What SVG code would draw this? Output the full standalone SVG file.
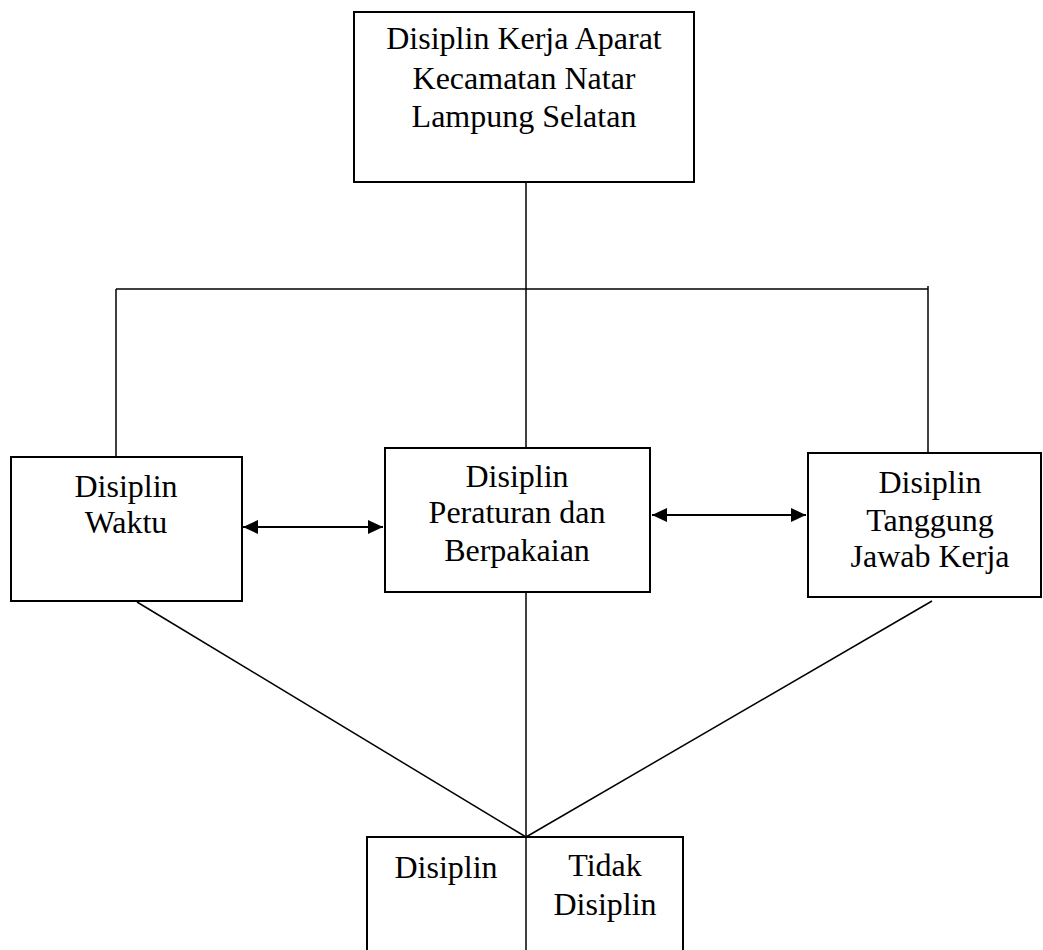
<svg xmlns="http://www.w3.org/2000/svg" width="1043" height="950" viewBox="0 0 1043 950">
<defs>
<marker id="ah" viewBox="0 0 15 14" refX="15" refY="7" markerWidth="15" markerHeight="14" markerUnits="userSpaceOnUse" orient="auto-start-reverse">
<path d="M0,0 L15,7 L0,14 Z" fill="#000"/>
</marker>
</defs>
<style>
.box{fill:#fff;stroke:#000;stroke-width:2}
.ln{fill:none;stroke:#000;stroke-width:1.5}
.arr{fill:none;stroke:#000;stroke-width:2}
.t{font-family:"Liberation Serif","Times New Roman",serif;font-size:32px;fill:#000;text-anchor:middle}
</style>
<rect width="1043" height="950" fill="#fff"/>
<g id="connectors">
<path class="ln" d="M526,182 V448"/>
<path class="ln" d="M116,289 H928"/>
<path class="ln" d="M116,289 V457"/>
<path class="ln" d="M928,286 V453"/>
<path class="arr" d="M243,527 H383" marker-start="url(#ah)" marker-end="url(#ah)"/>
<path class="arr" d="M652,515 H806" marker-start="url(#ah)" marker-end="url(#ah)"/>
<path class="ln" d="M137,602 L526,837"/>
<path class="ln" d="M932,601 L526,837"/>
<path class="ln" d="M526,592 V837"/>
</g>
<g id="node-top">
<rect class="box" x="354" y="12" width="340" height="170"/>
<text class="t" x="524" y="49">Disiplin Kerja Aparat</text>
<text class="t" x="524" y="89">Kecamatan Natar</text>
<text class="t" x="524" y="127">Lampung Selatan</text>
</g>
<g id="node-waktu">
<rect class="box" x="11" y="457" width="231" height="144"/>
<text class="t" x="126" y="497">Disiplin</text>
<text class="t" x="126" y="533">Waktu</text>
</g>
<g id="node-peraturan">
<rect class="box" x="385" y="448" width="265" height="144"/>
<text class="t" x="517" y="487">Disiplin</text>
<text class="t" x="517" y="523">Peraturan dan</text>
<text class="t" x="517" y="561">Berpakaian</text>
</g>
<g id="node-tanggung">
<rect class="box" x="808" y="453" width="233" height="144"/>
<text class="t" x="930" y="493">Disiplin</text>
<text class="t" x="930" y="531">Tanggung</text>
<text class="t" x="930" y="567">Jawab Kerja</text>
</g>
<g id="node-hasil">
<rect class="box" x="367" y="837" width="316" height="130"/>
<path class="ln" d="M526,837 V950"/>
<text class="t" x="446" y="878">Disiplin</text>
<text class="t" x="605" y="876">Tidak</text>
<text class="t" x="605" y="915">Disiplin</text>
</g>
</svg>
